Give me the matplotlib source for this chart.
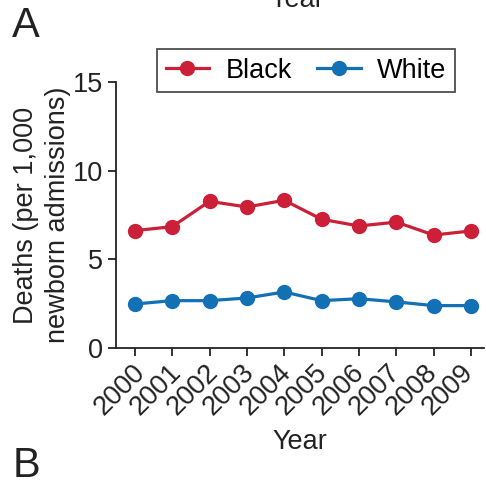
import matplotlib
matplotlib.use("Agg")
import matplotlib.pyplot as plt
from matplotlib.transforms import ScaledTranslation

years = ["2000", "2001", "2002", "2003", "2004", "2005", "2006", "2007", "2008", "2009"]
black = [6.62, 6.84, 8.27, 7.95, 8.33, 7.26, 6.88, 7.10, 6.37, 6.60]
white = [2.48, 2.67, 2.67, 2.82, 3.16, 2.67, 2.78, 2.60, 2.39, 2.39]

plt.rcParams['font.family'] = ['Liberation Sans', 'DejaVu Sans']
RED = '#CC1F38'
BLUE = '#1270B5'
FS = 19.5

fig = plt.figure(figsize=(4.86, 4.84), dpi=100)
ax = fig.add_axes([0.239, 0.281, 0.757, 0.5496])
x = list(range(len(years)))
ax.plot(x, black, '-o', color=RED, lw=2.3, ms=10, label='Black', clip_on=False)
ax.plot(x, white, '-o', color=BLUE, lw=2.3, ms=10, label='White', clip_on=False)

ax.set_xlim(-0.5, 9.35)
ax.set_ylim(0, 15)
ax.set_yticks([0, 5, 10, 15])
ax.set_xticks(x)
ax.set_xticklabels(years, rotation=45, ha='right', rotation_mode='anchor')
ax.tick_params(labelsize=FS, width=1.3, length=6, color='#222222', labelcolor='#222222')
ax.tick_params(axis='x', pad=3)
n = len(years)
for i, lbl in enumerate(ax.get_xticklabels()):
    dx = -(3 + 8 * i / (n - 1)) / 100.0
    lbl.set_transform(lbl.get_transform() + ScaledTranslation(dx, 0.01, fig.dpi_scale_trans))
for s in ['top', 'right']:
    ax.spines[s].set_visible(False)
for s in ['left', 'bottom']:
    ax.spines[s].set_linewidth(1.3)
    ax.spines[s].set_color('#222222')
ax.set_xlabel('Year', fontsize=FS, color='#222222', labelpad=6)
ax.set_ylabel('Deaths (per 1,000\nnewborn admissions)', fontsize=FS, color='#222222', linespacing=1.3, labelpad=1)

leg = ax.legend(loc='center', bbox_to_anchor=(0.516, 1.043), ncol=2, frameon=True, fancybox=False,
                fontsize=FS, edgecolor='#222222', handlelength=1.6, columnspacing=0.95,
                borderpad=0.33, handletextpad=0.6)
leg.get_frame().set_linewidth(1.3)

fig.text(0.025, 0.924, 'A', fontsize=30, color='#222222', va='baseline')
fig.text(0.025, 0.0145, 'B', fontsize=30, color='#222222', va='baseline')
fig.text(0.61, 0.9855, 'Year', fontsize=FS, color='#222222', va='baseline', ha='center')

fig.savefig('out.png', dpi=100)
